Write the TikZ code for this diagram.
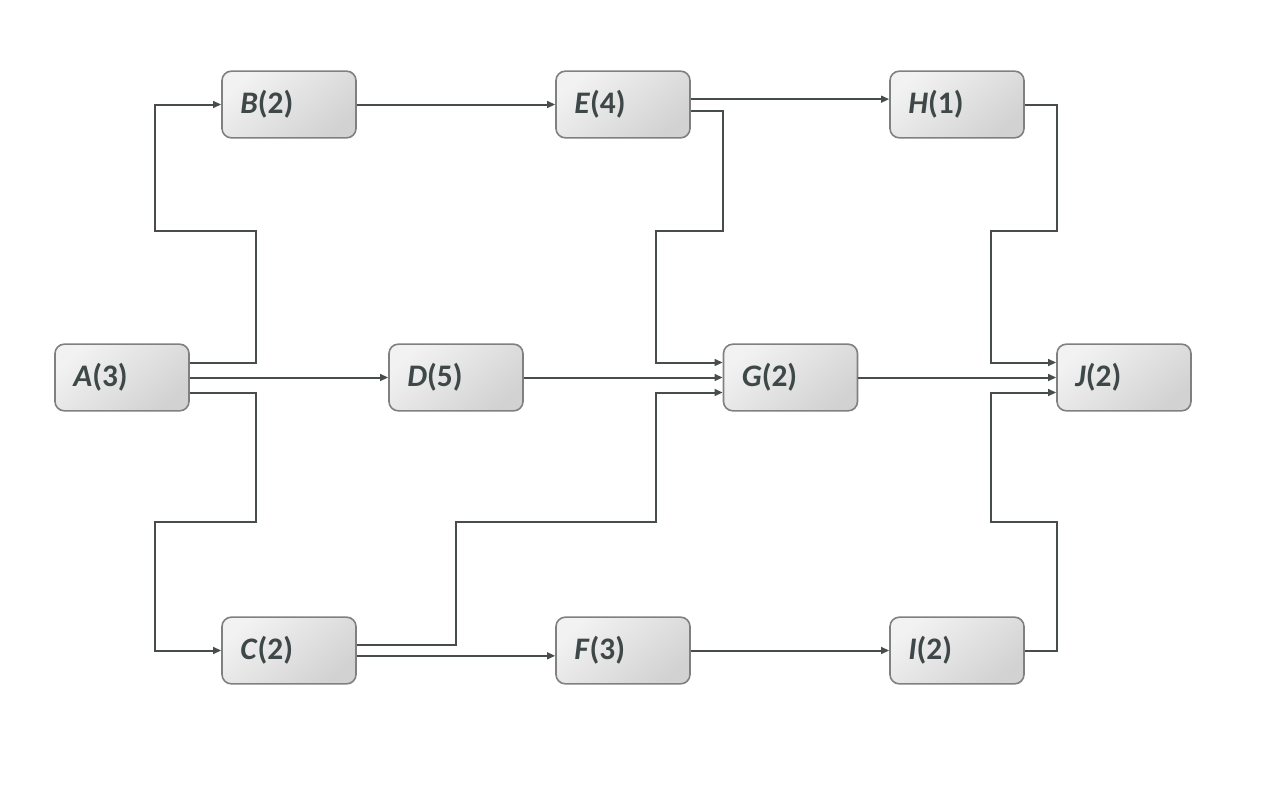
\documentclass[tikz,border=0pt]{standalone}
\usepackage{fontspec}
\setmainfont{Carlito}
\usepackage{tikz}
\usepackage{xcolor}
\usetikzlibrary{arrows.meta}
\definecolor{linegray}{HTML}{474C4C}
\definecolor{textgray}{HTML}{3F4848}
\definecolor{boxedge}{HTML}{808080}
\definecolor{boxtop}{HTML}{F2F2F2}
\definecolor{boxbot}{HTML}{D2D2D2}
\tikzset{%
  tipA/.tip={Triangle[length=6pt,width=5pt]},
  task/.style={draw=boxedge, line width=1.2pt, rounded corners=7pt,
    top color=boxtop, bottom color=boxbot, shading angle=40,
    minimum width=100.5pt, minimum height=50pt, inner xsep=13.5pt,
    text width=73pt, align=left, text=textgray, font=\fontsize{23.5}{26}\selectfont\bfseries},
  flow/.style={linegray, line width=1.5pt, -tipA}
}
\newcommand{\job}[2]{\textit{#1}(#2)}

\begin{document}
\begin{tikzpicture}[x=0.75pt,y=-0.75pt]
\useasboundingbox (0,0) rectangle (1288,792);
\node[task] (A) at (122,377.5) {\job{A}{3}};
\node[task] (B) at (289,104.5) {\job{B}{2}};
\node[task] (C) at (289,650.5) {\job{C}{2}};
\node[task] (D) at (456,377.5) {\job{D}{5}};
\node[task] (E) at (623,104.5) {\job{E}{4}};
\node[task] (F) at (623,650.5) {\job{F}{3}};
\node[task] (G) at (790.5,377.5) {\job{G}{2}};
\node[task] (H) at (957,104.5) {\job{H}{1}};
\node[task] (I) at (957,650.5) {\job{I}{2}};
\node[task] (J) at (1124,377.5) {\job{J}{2}};
% out of A
\draw[flow] ([yshift=11.25pt]A.east) -| (256,231) -- (155,231) |- (B.west);
\draw[flow] (A.east) -- (D.west);
\draw[flow] ([yshift=-11.25pt]A.east) -| (256,522) -- (155,522) |- (C.west);
% top row
\draw[flow] (B.east) -- (E.west);
\draw[flow] ([yshift=4pt]E.east) -- ([yshift=4pt]H.west);
\draw[flow] ([yshift=-4.5pt]E.east) -| (723,231) -- (656,231) |- ([yshift=11.25pt]G.west);
% middle
\draw[flow] (D.east) -- (G.west);
\draw[flow] (G.east) -- (J.west);
% bottom row
\draw[flow] ([yshift=4.5pt]C.east) -| (456,522) -- (656,522) |- ([yshift=-11.25pt]G.west);
\draw[flow] ([yshift=-4pt]C.east) -- ([yshift=-4pt]F.west);
\draw[flow] (F.east) -- (I.west);
% into J
\draw[flow] (H.east) -| (1057,231) -- (991,231) |- ([yshift=11.25pt]J.west);
\draw[flow] (I.east) -| (1057,522) -- (991,522) |- ([yshift=-11.25pt]J.west);
\end{tikzpicture}
\end{document}
